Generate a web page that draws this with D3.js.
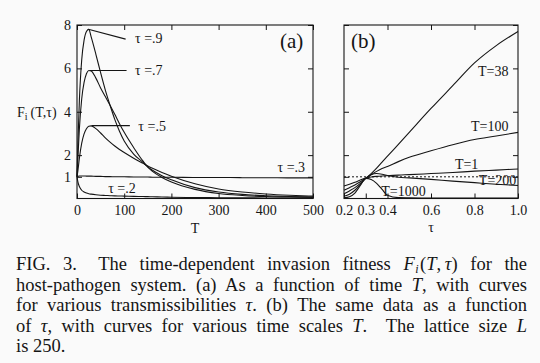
<!DOCTYPE html>
<html>
<head>
<meta charset="utf-8">
<script src="https://cdn.jsdelivr.net/npm/d3@7"></script>
<style>
body { margin: 0; background: #fafafa; }
svg { display: block; }
svg text { font-family: "Liberation Serif", "Times New Roman", serif; }
</style>
</head>
<body>
<svg id="chart" width="540" height="363"></svg>
<script>
// panel (a): fitness as a function of time T, one curve per tau
var timeT = [0, 2, 5, 10, 15, 20, 25, 30, 40, 50, 60, 70, 80, 90, 100, 120, 140, 150, 160, 180, 200, 250, 300, 350, 400, 450, 500];
var tau9 = [1, 2.6, 4.5, 6.4, 7.3, 7.7, 7.8, 7.45, 6.65, 5.8, 5.0, 4.3, 3.65, 3.1, 2.65, 2.05, 1.66, 1.45, 1.25, 0.97, 0.76, 0.42, 0.23, 0.14, 0.09, 0.07, 0.05];
var tau7 = [1, 1.9, 3.2, 4.6, 5.35, 5.75, 5.9, 5.88, 5.55, 5.1, 4.7, 4.3, 3.88, 3.45, 3.05, 2.35, 1.72, 1.46, 1.3, 1.05, 0.86, 0.5, 0.3, 0.19, 0.13, 0.09, 0.07];
var tau5 = [1, 1.3, 1.85, 2.55, 2.98, 3.22, 3.33, 3.35, 3.22, 3.02, 2.8, 2.6, 2.42, 2.26, 2.12, 1.86, 1.62, 1.5, 1.39, 1.2, 1.03, 0.68, 0.44, 0.3, 0.21, 0.15, 0.11];
var tau3 = [1, 1.02, 1.04, 1.04, 1.04, 1.03, 1.03, 1.03, 1.02, 1.02, 1.01, 1.01, 1.0, 1.0, 1.0, 0.99, 0.99, 0.99, 0.98, 0.98, 0.98, 0.97, 0.97, 0.96, 0.96, 0.95, 0.95];
var tau2 = [1, 0.75, 0.55, 0.38, 0.3, 0.25, 0.22, 0.2, 0.17, 0.15, 0.14, 0.13, 0.12, 0.115, 0.11, 0.1, 0.09, 0.085, 0.08, 0.07, 0.06, 0.045, 0.035, 0.03, 0.025, 0.02, 0.02];

// panel (b): same data as a function of tau, one curve per time scale
var tauGrid = [0.2, 0.225, 0.25, 0.275, 0.3, 0.325, 0.35, 0.375, 0.4, 0.45, 0.5, 0.6, 0.7, 0.8, 0.9, 1.0];
var timeScale1 = [0.58, 0.66, 0.75, 0.85, 0.94, 0.99, 1.02, 1.04, 1.05, 1.08, 1.1, 1.15, 1.2, 1.26, 1.31, 1.36];
var timeScale38 = [0.38, 0.5, 0.62, 0.77, 0.94, 1.15, 1.4, 1.68, 1.95, 2.5, 3.05, 4.15, 5.2, 6.25, 7.05, 7.7];
var timeScale100 = [0.22, 0.35, 0.5, 0.7, 0.93, 1.1, 1.25, 1.38, 1.48, 1.7, 1.9, 2.2, 2.48, 2.72, 2.88, 3.05];
var timeScale200 = [0.1, 0.2, 0.38, 0.65, 0.93, 1.1, 1.15, 1.12, 1.06, 0.98, 0.95, 0.88, 0.8, 0.73, 0.66, 0.6];
var timeScale1000 = [0.03, 0.08, 0.25, 0.6, 0.93, 0.88, 0.7, 0.42, 0.15, 0.04, 0.03, 0.02, 0.02, 0.02, 0.02, 0.02];
var refLevel = 1;

var ticksT = [0, 100, 200, 300, 400, 500];
var ticksTau = [0.2, 0.3, 0.4, 0.6, 0.8, 1.0];
var ticksTauTop = [0.4, 0.6, 0.8];
var ticksF = [1, 2, 4, 6, 8];

var serif = '"Liberation Serif", "Times New Roman", serif';
var svg = d3.select("#chart").attr("font-family", serif);
var ink = "#151515";

var xA = d3.scaleLinear().domain([0, 500]).range([77, 313]);
var xB = d3.scaleLinear().domain([0.2, 1.0]).range([344, 518]);
var y = d3.scaleLinear().domain([0, 8]).range([198.5, 25]);

function styleAxis(g) {
    g.attr("font-family", serif).attr("font-size", null);
    g.select(".domain").remove();
    g.selectAll(".tick line").attr("stroke", ink);
    g.selectAll(".tick text").attr("fill", ink)
        .style("font-size", "14px").style("font-family", serif);
}

// frames + inward ticks
function panel(x, xticks, xticksTop, fmt, yLabels) {
    var r = x.range();
    svg.append("rect")
        .attr("x", r[0]).attr("y", y(8))
        .attr("width", r[1] - r[0]).attr("height", y(0) - y(8))
        .attr("fill", "none").attr("stroke", ink).attr("stroke-width", 1.1);

    svg.append("g").attr("transform", "translate(0," + y(0) + ")")
        .call(d3.axisBottom(x).tickValues(xticks).tickSize(-5).tickPadding(6.5).tickFormat(fmt))
        .call(styleAxis);
    svg.append("g").attr("transform", "translate(0," + y(8) + ")")
        .call(d3.axisTop(x).tickValues(xticksTop).tickSize(-5).tickFormat(""))
        .call(styleAxis);
    svg.append("g").attr("transform", "translate(" + r[0] + ",0)")
        .call(d3.axisLeft(y).tickValues(ticksF).tickSize(-5).tickPadding(6).tickFormat(yLabels ? d3.format("d") : ""))
        .call(styleAxis);
    svg.append("g").attr("transform", "translate(" + r[1] + ",0)")
        .call(d3.axisRight(y).tickValues(ticksF).tickSize(-5).tickFormat(""))
        .call(styleAxis);
}

panel(xA, ticksT, ticksT, d3.format("d"), true);
panel(xB, ticksTau, ticksTauTop, d3.format(".1f"), false);

function drawCurve(x, xs, ys) {
    var line = d3.line()
        .x(function(d, i) { return x(xs[i]); })
        .y(function(d) { return y(d); })
        .curve(d3.curveMonotoneX);
    svg.append("path").datum(ys)
        .attr("d", line)
        .attr("fill", "none")
        .attr("stroke", ink)
        .attr("stroke-width", 1.1);
}

[tau9, tau7, tau5, tau3, tau2].forEach(function(s) { drawCurve(xA, timeT, s); });
[timeScale1, timeScale38, timeScale100, timeScale200, timeScale1000].forEach(function(s) { drawCurve(xB, tauGrid, s); });

// dotted reference at F=1 in (b)
svg.append("line")
    .attr("x1", xB(0.2)).attr("x2", xB(1.0))
    .attr("y1", y(refLevel)).attr("y2", y(refLevel))
    .attr("stroke", ink).attr("stroke-width", 1)
    .attr("stroke-dasharray", "2,2");

// leader lines for the tau labels (data units)
var leaders = [[24, 7.8, 103, 7.35], [27, 5.9, 105, 5.9], [31, 3.36, 112, 3.36]];
leaders.forEach(function(l) {
    svg.append("line")
        .attr("x1", xA(l[0])).attr("y1", y(l[1]))
        .attr("x2", xA(l[2])).attr("y2", y(l[3]))
        .attr("stroke", ink).attr("stroke-width", 1.1);
});

function label(txt, px, py, anchor) {
    return svg.append("text")
        .attr("x", px).attr("y", py)
        .attr("text-anchor", anchor || "start")
        .style("font-family", serif)
        .style("font-size", "14px").style("fill", ink)
        .text(txt);
}
label("τ =.9", xA(123), y(7.15));
label("τ =.7", xA(123), y(5.69));
label("τ =.5", xA(130), y(3.13));
label("τ =.3", xA(425), y(1.22));
label("τ =.2", xA(66), y(0.25));

label("T=38", xB(0.956), y(5.67), "end");
label("T=100", xB(0.956), y(3.09), "end");
label("T=1", xB(0.71), y(1.36));
label("T=200", xB(0.82), y(0.62));
label("T=1000", xB(0.371), y(0.12));

// panel tags
label("(a)", 280, 48).style("font-size", "21px");
label("(b)", 351, 48).style("font-size", "21px");

// axis titles
label("T", (xA.range()[0] + xA.range()[1]) / 2, 233, "middle");
label("τ", (xB.range()[0] + xB.range()[1]) / 2, 232, "middle");

var yl = label("", 17, 117);
yl.append("tspan").text("F");
yl.append("tspan").attr("dy", 3).style("font-size", "10px").text("i");
yl.append("tspan").attr("dy", -3).attr("dx", 3).text("(T,τ)");

// caption, justified (thin spaces inside math are not stretched)
var capLines = [
    [{t: "FIG. 3."}, {t: " The time-dependent invasion fitness ", dx: 9}, {t: "F", i: 1}, {t: "i", i: 1, sub: 1, dx: 0.5}, {t: "(", up: 1, dx: 1.5}, {t: "T", i: 1}, {t: ",\u2009"}, {t: "τ", i: 1}, {t: ") for the"}],
    [{t: "host-pathogen system. (a) As a function of time "}, {t: "T", i: 1}, {t: ", with curves"}],
    [{t: "for various transmissibilities "}, {t: "τ", i: 1}, {t: ". (b) The same data as a function"}],
    [{t: "of "}, {t: "τ", i: 1}, {t: ", with curves for various time scales "}, {t: "T", i: 1}, {t: ".  The lattice size "}, {t: "L", i: 1}],
    [{t: "is 250."}]
];
var capX0 = 16, capX1 = 527, capY0 = 270, capLead = 20.5;

capLines.forEach(function(segs, i) {
    var t = label("", capX0, capY0 + i * capLead)
        .style("font-size", "18.5px")
        .attr("xml:space", "preserve");
    segs.forEach(function(s) {
        var ts = t.append("tspan").text(s.t);
        if (s.i) ts.style("font-style", "italic");
        if (s.sub) ts.attr("dy", 2.5).style("font-size", "12px");
        if (s.up) ts.attr("dy", -2.5);
        if (s.dx) ts.attr("dx", s.dx);
    });
    if (i < capLines.length - 1) {
        var w = t.node().getBBox().width;
        var n = t.text().split(" ").length - 1;
        t.style("word-spacing", ((capX1 - capX0 - w) / n) + "px");
    }
});
</script>
</body>
</html>
